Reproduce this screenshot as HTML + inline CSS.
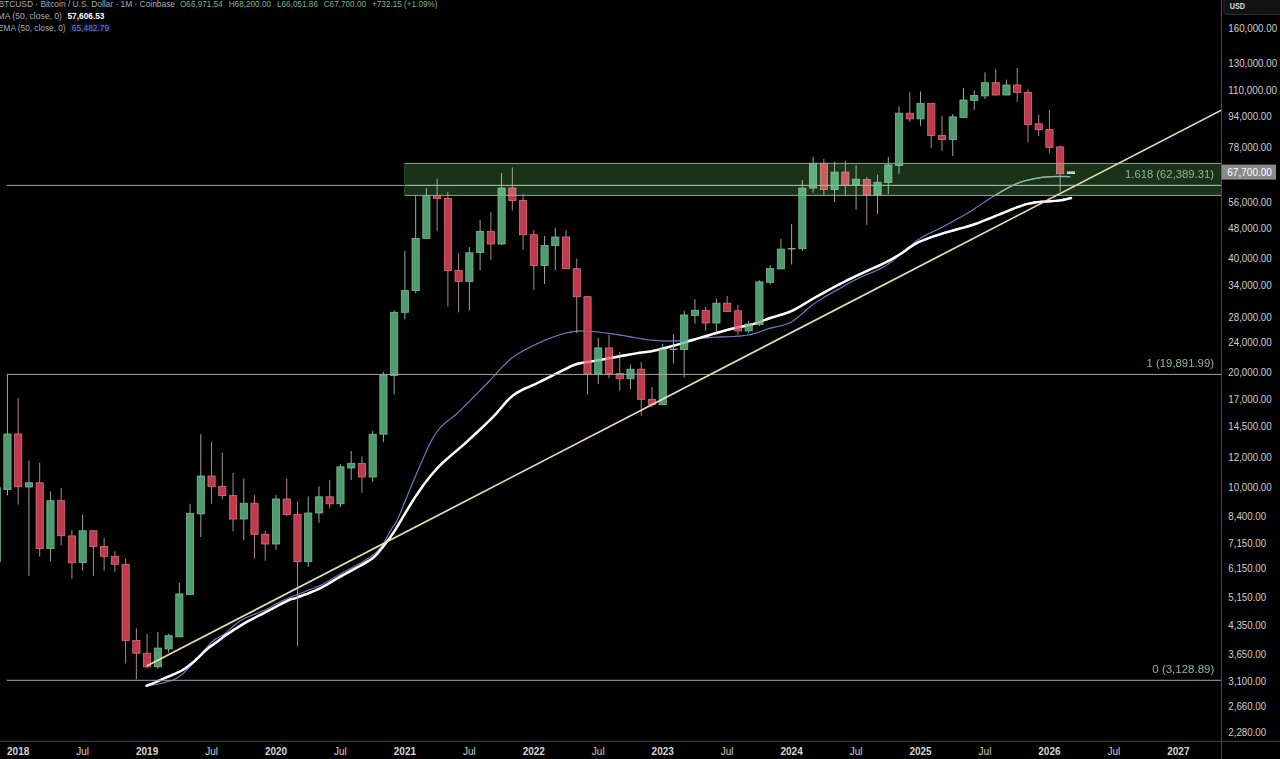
<!DOCTYPE html>
<html><head><meta charset="utf-8"><title>BTCUSD chart</title>
<style>html,body{margin:0;padding:0;background:#000;width:1280px;height:759px;overflow:hidden}</style>
</head><body>
<svg width="1280" height="759" viewBox="0 0 1280 759" style="display:block"><rect width="1280" height="759" fill="#000"/><defs><clipPath id="pane"><rect x="0" y="0" width="1221.0" height="740.75"/></clipPath></defs><g clip-path="url(#pane)"><polyline points="146.7,685.5 148.0,685.3 149.8,685.1 151.9,684.9 154.1,684.6 156.3,684.3 158.2,684.0 159.8,683.7 161.3,683.4 162.8,683.0 164.2,682.6 165.6,682.2 167.0,681.8 168.5,681.4 169.9,680.9 171.4,680.4 172.9,679.9 174.3,679.3 175.6,678.7 176.9,678.0 178.0,677.3 179.2,676.5 180.3,675.7 181.4,674.9 182.5,674.0 183.6,673.1 184.6,672.1 185.7,671.1 186.7,670.0 187.8,668.9 189.0,667.7 190.2,666.4 191.6,665.0 192.9,663.6 194.3,662.0 195.7,660.5 197.0,659.0 198.3,657.5 199.6,655.9 200.8,654.3 202.1,652.7 203.4,651.1 204.8,649.5 206.3,647.9 207.8,646.2 209.4,644.6 211.0,642.9 212.6,641.4 214.3,640.0 216.0,638.8 217.6,637.9 219.3,637.0 221.0,636.0 222.9,634.9 225.0,633.5 227.2,631.7 229.6,629.6 232.0,627.3 234.7,624.9 237.6,622.6 240.8,620.5 244.4,618.6 248.4,616.8 252.7,615.1 257.0,613.3 261.3,611.6 265.4,609.8 269.2,607.9 272.7,606.0 276.2,604.1 279.8,602.1 283.6,600.2 287.8,598.2 292.6,596.2 297.9,594.2 303.4,592.2 308.9,590.1 314.2,588.1 319.0,586.0 323.3,583.9 327.2,581.8 330.8,579.7 334.4,577.5 337.9,575.4 341.6,573.3 345.4,571.2 349.3,569.2 353.2,567.1 357.0,565.1 360.6,563.1 364.0,561.0 367.1,559.0 370.0,557.1 372.7,555.1 375.3,553.1 377.7,550.9 380.0,548.5 382.1,545.7 384.1,542.5 385.9,539.2 387.6,535.9 389.3,532.8 390.8,530.0 392.1,528.0 393.1,526.7 394.0,525.5 395.1,524.1 396.4,521.7 398.2,517.9 400.6,512.4 403.4,505.5 406.5,497.8 409.8,489.6 413.2,481.5 416.4,474.0 419.5,466.8 422.7,459.4 425.9,452.1 429.2,445.1 432.5,438.7 436.0,433.0 439.6,428.4 443.2,424.7 446.9,421.5 450.8,418.6 454.7,415.5 458.8,411.8 463.1,407.6 467.6,403.1 472.3,398.4 477.0,393.7 481.6,389.0 486.0,384.5 490.3,380.0 494.4,375.5 498.5,371.0 502.5,366.7 506.5,362.8 510.3,359.3 514.0,356.4 517.6,354.0 521.1,351.9 524.5,350.0 528.0,348.3 531.5,346.5 535.0,344.7 538.6,343.0 542.1,341.4 545.6,339.9 549.2,338.5 552.7,337.2 556.3,336.0 559.9,334.8 563.5,333.8 567.1,332.8 570.5,332.1 573.9,331.5 577.0,331.1 579.9,331.0 582.7,331.0 585.6,331.1 588.7,331.3 592.0,331.5 595.7,331.8 599.7,332.2 603.9,332.8 608.1,333.3 612.3,333.9 616.4,334.5 620.5,335.1 624.7,335.8 629.0,336.6 633.0,337.3 636.7,338.0 640.0,338.5 642.6,338.9 644.6,339.3 646.3,339.6 647.9,339.8 649.9,340.0 652.4,340.2 655.4,340.4 658.7,340.7 662.3,340.9 666.1,341.0 670.3,341.0 674.8,340.9 679.7,340.6 685.0,340.1 690.6,339.4 696.5,338.8 702.4,338.1 708.4,337.6 714.7,337.2 721.3,336.9 728.1,336.7 734.8,336.4 741.0,335.9 746.5,335.3 751.1,334.4 755.1,333.4 758.7,332.2 762.0,331.0 765.3,329.8 768.9,328.6 772.6,327.6 776.4,326.8 780.1,326.0 783.8,325.0 787.6,323.7 791.3,321.9 795.0,319.5 798.8,316.6 802.5,313.3 806.2,310.0 810.0,306.8 813.7,303.9 817.4,301.4 821.2,299.1 824.9,296.8 828.6,294.7 832.4,292.6 836.1,290.5 839.8,288.4 843.4,286.3 847.0,284.3 850.7,282.3 854.5,280.2 858.5,278.2 862.8,276.2 867.3,274.3 871.9,272.5 876.5,270.5 881.1,268.3 885.4,265.9 889.7,263.0 893.9,259.7 898.1,256.3 902.1,252.8 905.7,249.7 909.0,247.0 911.6,244.9 913.6,243.2 915.3,241.8 917.0,240.5 919.0,239.1 921.6,237.5 924.9,235.7 928.7,233.8 932.8,231.8 937.0,229.8 941.2,227.7 945.3,225.6 949.2,223.5 953.2,221.3 957.1,219.1 961.1,216.9 965.0,214.6 969.0,212.2 973.0,209.7 976.9,207.1 980.9,204.4 984.9,201.8 988.8,199.2 992.8,196.7 996.8,194.3 1000.8,191.9 1004.9,189.6 1008.8,187.4 1012.7,185.4 1016.5,183.7 1020.2,182.3 1023.7,181.2 1027.2,180.2 1030.6,179.5 1033.9,178.8 1037.0,178.2 1039.9,177.7 1042.6,177.3 1045.1,177.1 1047.6,176.9 1050.1,176.7 1052.8,176.6 1055.8,176.5 1059.1,176.5 1062.5,176.5 1065.6,176.5 1068.3,176.6 1070.2,176.6" fill="none" stroke="#6c78c0" stroke-width="1.1" stroke-linejoin="round"/><polyline points="146.5,685.8 147.4,685.4 148.7,685.0 150.2,684.4 151.8,683.8 153.5,683.1 155.0,682.5 156.4,681.9 157.9,681.2 159.4,680.5 160.9,679.8 162.3,679.1 163.7,678.5 165.0,677.9 166.4,677.4 167.6,676.9 168.9,676.4 170.2,675.9 171.5,675.3 172.8,674.7 174.2,674.1 175.6,673.5 177.0,672.8 178.3,672.2 179.5,671.6 180.6,671.0 181.7,670.5 182.6,670.0 183.6,669.4 184.5,668.8 185.5,668.2 186.5,667.5 187.5,666.8 188.5,666.1 189.4,665.3 190.4,664.5 191.4,663.7 192.4,662.9 193.4,662.0 194.4,661.2 195.3,660.3 196.3,659.4 197.3,658.5 198.3,657.6 199.2,656.6 200.2,655.6 201.2,654.6 202.2,653.6 203.2,652.6 204.2,651.6 205.3,650.7 206.4,649.8 207.5,648.8 208.7,647.8 210.0,646.8 211.5,645.7 213.2,644.5 215.0,643.2 216.8,642.0 218.4,640.8 219.8,639.8 220.8,639.0 221.3,638.5 221.8,638.1 222.4,637.5 223.4,636.8 225.1,635.6 227.6,633.9 230.7,631.9 234.3,629.6 238.0,627.2 241.8,624.9 245.3,622.8 248.6,620.9 251.9,619.2 255.2,617.5 258.5,615.8 261.9,614.1 265.4,612.3 269.2,610.3 273.2,608.2 277.3,606.0 281.2,603.9 284.8,602.1 287.8,600.6 289.9,599.7 291.3,599.2 292.3,598.9 293.3,598.7 294.7,598.3 296.8,597.6 299.8,596.5 303.3,595.2 307.2,593.8 311.2,592.2 315.3,590.5 319.2,588.7 322.9,586.8 326.7,584.7 330.4,582.5 334.1,580.3 337.9,578.0 341.6,575.9 345.5,573.8 349.5,571.6 353.5,569.4 357.4,567.3 360.9,565.4 364.0,563.6 366.5,562.1 368.6,560.9 370.3,559.8 371.9,558.7 373.5,557.4 375.2,555.8 377.1,553.9 379.0,551.7 380.9,549.3 382.8,546.9 384.7,544.5 386.4,542.3 387.9,540.4 389.1,538.9 390.2,537.5 391.4,535.7 393.0,533.3 395.2,530.0 398.0,525.4 401.3,519.8 405.0,513.5 408.9,507.1 412.7,500.8 416.4,495.2 419.9,490.2 423.2,485.4 426.6,480.9 430.1,476.5 433.7,472.2 437.6,467.9 441.8,463.7 446.2,459.6 450.8,455.6 455.5,451.7 460.2,447.7 464.8,443.6 469.4,439.4 474.1,435.0 478.8,430.7 483.4,426.3 487.9,422.0 492.1,417.9 496.0,413.8 499.5,409.7 502.9,405.7 506.2,401.9 509.7,398.3 513.3,395.2 517.2,392.6 521.2,390.4 525.3,388.4 529.4,386.7 533.5,384.9 537.6,383.0 541.7,380.9 546.0,378.8 550.3,376.6 554.4,374.5 558.3,372.6 561.8,370.9 564.8,369.4 567.3,368.1 569.6,366.9 571.8,365.9 574.2,364.9 577.0,364.0 580.2,363.2 583.5,362.6 587.0,362.0 590.7,361.5 594.4,360.9 598.2,360.3 602.1,359.6 606.3,358.8 610.5,358.0 614.7,357.2 618.7,356.5 622.4,355.8 625.8,355.2 628.9,354.6 631.9,354.1 634.8,353.6 637.4,353.1 640.0,352.7 642.3,352.4 644.1,352.2 645.9,352.0 647.7,351.8 649.8,351.5 652.4,351.0 655.6,350.3 659.1,349.5 663.0,348.5 667.0,347.5 671.0,346.4 674.8,345.4 678.4,344.4 681.9,343.4 685.3,342.3 688.9,341.2 692.8,340.0 697.2,338.7 702.3,337.2 708.0,335.5 714.0,333.7 720.0,332.0 725.7,330.4 730.8,329.0 735.3,327.9 739.3,327.0 743.1,326.3 746.6,325.6 750.0,324.9 753.2,324.1 756.1,323.2 758.7,322.4 761.0,321.5 763.4,320.5 766.0,319.5 768.9,318.5 772.2,317.4 775.9,316.4 779.7,315.2 783.6,314.0 787.5,312.7 791.3,311.1 795.0,309.3 798.8,307.2 802.5,305.0 806.2,302.7 810.0,300.5 813.7,298.3 817.4,296.2 821.2,294.1 824.9,292.1 828.6,290.0 832.4,288.0 836.1,286.0 839.8,284.1 843.4,282.2 847.0,280.4 850.7,278.6 854.5,276.7 858.5,274.8 862.9,272.8 867.6,270.6 872.4,268.5 877.2,266.3 881.6,264.3 885.4,262.5 888.5,260.9 891.0,259.6 893.2,258.3 895.3,257.1 897.5,255.8 900.0,254.2 902.8,252.4 905.6,250.4 908.5,248.3 911.6,246.2 914.9,244.1 918.5,242.2 922.5,240.5 926.8,238.8 931.3,237.2 935.9,235.7 940.6,234.2 945.3,232.7 950.0,231.3 954.7,230.0 959.5,228.7 964.4,227.4 969.1,226.0 973.8,224.5 978.5,222.8 983.1,221.0 987.7,219.1 992.3,217.3 996.6,215.5 1000.7,213.8 1004.6,212.3 1008.2,210.8 1011.7,209.3 1015.1,208.0 1018.2,206.8 1021.2,205.8 1024.0,204.9 1026.5,204.2 1028.8,203.7 1031.1,203.2 1033.3,202.8 1035.5,202.4 1037.7,202.1 1039.8,201.9 1041.9,201.8 1044.0,201.7 1046.0,201.5 1048.1,201.4 1050.2,201.2 1052.4,201.1 1054.6,200.9 1056.7,200.8 1058.8,200.6 1060.8,200.3 1062.8,200.0 1064.8,199.5 1066.7,199.1 1068.4,198.6 1069.9,198.3 1071.0,198.0" fill="none" stroke="#ffffff" stroke-width="2.4" stroke-linejoin="round" stroke-linecap="round"/><line x1="-3.28" y1="480.0" x2="-3.28" y2="565.0" stroke="#98a89c" stroke-width="1"/><rect x="-6.88" y="487.6" width="7.2" height="73.8" fill="#4e9b6f" stroke="#79b891" stroke-width="0.8"/><line x1="7.46" y1="374.0" x2="7.46" y2="495.4" stroke="#98a89c" stroke-width="1"/><rect x="3.86" y="434.0" width="7.2" height="55.6" fill="#4e9b6f" stroke="#79b891" stroke-width="0.8"/><line x1="18.20" y1="398.0" x2="18.20" y2="504.6" stroke="#a48a8e" stroke-width="1"/><rect x="14.60" y="434.0" width="7.2" height="52.7" fill="#c03a4e" stroke="#d9707c" stroke-width="0.8"/><line x1="28.94" y1="460.6" x2="28.94" y2="575.8" stroke="#98a89c" stroke-width="1"/><rect x="25.34" y="482.8" width="7.2" height="4.2" fill="#4e9b6f" stroke="#79b891" stroke-width="0.8"/><line x1="39.68" y1="462.5" x2="39.68" y2="556.5" stroke="#a48a8e" stroke-width="1"/><rect x="36.08" y="482.8" width="7.2" height="65.8" fill="#c03a4e" stroke="#d9707c" stroke-width="0.8"/><line x1="50.43" y1="491.4" x2="50.43" y2="561.3" stroke="#98a89c" stroke-width="1"/><rect x="46.83" y="500.7" width="7.2" height="47.9" fill="#4e9b6f" stroke="#79b891" stroke-width="0.8"/><line x1="61.17" y1="488.0" x2="61.17" y2="545.5" stroke="#a48a8e" stroke-width="1"/><rect x="57.57" y="500.7" width="7.2" height="35.0" fill="#c03a4e" stroke="#d9707c" stroke-width="0.8"/><line x1="71.91" y1="530.0" x2="71.91" y2="579.0" stroke="#a48a8e" stroke-width="1"/><rect x="68.31" y="535.9" width="7.2" height="26.9" fill="#c03a4e" stroke="#d9707c" stroke-width="0.8"/><line x1="82.65" y1="514.5" x2="82.65" y2="570.6" stroke="#98a89c" stroke-width="1"/><rect x="79.05" y="530.8" width="7.2" height="31.9" fill="#4e9b6f" stroke="#79b891" stroke-width="0.8"/><line x1="93.39" y1="530.0" x2="93.39" y2="575.9" stroke="#a48a8e" stroke-width="1"/><rect x="89.79" y="530.8" width="7.2" height="15.7" fill="#c03a4e" stroke="#d9707c" stroke-width="0.8"/><line x1="104.14" y1="537.7" x2="104.14" y2="570.6" stroke="#a48a8e" stroke-width="1"/><rect x="100.54" y="546.5" width="7.2" height="9.8" fill="#c03a4e" stroke="#d9707c" stroke-width="0.8"/><line x1="114.88" y1="551.4" x2="114.88" y2="571.7" stroke="#a48a8e" stroke-width="1"/><rect x="111.28" y="556.3" width="7.2" height="8.0" fill="#c03a4e" stroke="#d9707c" stroke-width="0.8"/><line x1="125.62" y1="558.5" x2="125.62" y2="663.4" stroke="#a48a8e" stroke-width="1"/><rect x="122.02" y="564.3" width="7.2" height="76.1" fill="#c03a4e" stroke="#d9707c" stroke-width="0.8"/><line x1="136.36" y1="628.3" x2="136.36" y2="679.2" stroke="#a48a8e" stroke-width="1"/><rect x="132.76" y="640.4" width="7.2" height="12.8" fill="#c03a4e" stroke="#d9707c" stroke-width="0.8"/><line x1="147.10" y1="633.9" x2="147.10" y2="668.6" stroke="#a48a8e" stroke-width="1"/><rect x="143.50" y="653.2" width="7.2" height="13.6" fill="#c03a4e" stroke="#d9707c" stroke-width="0.8"/><line x1="157.85" y1="631.8" x2="157.85" y2="668.6" stroke="#98a89c" stroke-width="1"/><rect x="154.25" y="648.1" width="7.2" height="18.7" fill="#4e9b6f" stroke="#79b891" stroke-width="0.8"/><line x1="168.59" y1="633.9" x2="168.59" y2="652.8" stroke="#98a89c" stroke-width="1"/><rect x="164.99" y="635.7" width="7.2" height="13.2" fill="#4e9b6f" stroke="#79b891" stroke-width="0.8"/><line x1="179.33" y1="582.8" x2="179.33" y2="637.0" stroke="#98a89c" stroke-width="1"/><rect x="175.73" y="593.9" width="7.2" height="43.0" fill="#4e9b6f" stroke="#79b891" stroke-width="0.8"/><line x1="190.07" y1="503.8" x2="190.07" y2="594.5" stroke="#98a89c" stroke-width="1"/><rect x="186.47" y="513.3" width="7.2" height="81.2" fill="#4e9b6f" stroke="#79b891" stroke-width="0.8"/><line x1="200.81" y1="434.2" x2="200.81" y2="537.0" stroke="#98a89c" stroke-width="1"/><rect x="197.21" y="476.0" width="7.2" height="37.9" fill="#4e9b6f" stroke="#79b891" stroke-width="0.8"/><line x1="211.56" y1="442.0" x2="211.56" y2="503.8" stroke="#a48a8e" stroke-width="1"/><rect x="207.96" y="476.0" width="7.2" height="10.7" fill="#c03a4e" stroke="#d9707c" stroke-width="0.8"/><line x1="222.30" y1="452.6" x2="222.30" y2="499.0" stroke="#a48a8e" stroke-width="1"/><rect x="218.70" y="486.5" width="7.2" height="9.1" fill="#c03a4e" stroke="#d9707c" stroke-width="0.8"/><line x1="233.04" y1="472.8" x2="233.04" y2="531.3" stroke="#a48a8e" stroke-width="1"/><rect x="229.44" y="495.6" width="7.2" height="23.4" fill="#c03a4e" stroke="#d9707c" stroke-width="0.8"/><line x1="243.78" y1="478.5" x2="243.78" y2="540.2" stroke="#98a89c" stroke-width="1"/><rect x="240.18" y="503.2" width="7.2" height="15.8" fill="#4e9b6f" stroke="#79b891" stroke-width="0.8"/><line x1="254.52" y1="495.0" x2="254.52" y2="558.5" stroke="#a48a8e" stroke-width="1"/><rect x="250.92" y="503.2" width="7.2" height="31.1" fill="#c03a4e" stroke="#d9707c" stroke-width="0.8"/><line x1="265.27" y1="530.7" x2="265.27" y2="560.7" stroke="#a48a8e" stroke-width="1"/><rect x="261.67" y="534.3" width="7.2" height="9.7" fill="#c03a4e" stroke="#d9707c" stroke-width="0.8"/><line x1="276.01" y1="495.0" x2="276.01" y2="549.6" stroke="#98a89c" stroke-width="1"/><rect x="272.41" y="499.0" width="7.2" height="45.0" fill="#4e9b6f" stroke="#79b891" stroke-width="0.8"/><line x1="286.75" y1="478.5" x2="286.75" y2="516.0" stroke="#a48a8e" stroke-width="1"/><rect x="283.15" y="499.0" width="7.2" height="15.6" fill="#c03a4e" stroke="#d9707c" stroke-width="0.8"/><line x1="297.49" y1="501.6" x2="297.49" y2="646.1" stroke="#a48a8e" stroke-width="1"/><rect x="293.89" y="514.6" width="7.2" height="47.1" fill="#c03a4e" stroke="#d9707c" stroke-width="0.8"/><line x1="308.23" y1="496.5" x2="308.23" y2="567.0" stroke="#98a89c" stroke-width="1"/><rect x="304.63" y="513.0" width="7.2" height="48.7" fill="#4e9b6f" stroke="#79b891" stroke-width="0.8"/><line x1="318.98" y1="486.4" x2="318.98" y2="522.8" stroke="#98a89c" stroke-width="1"/><rect x="315.38" y="496.8" width="7.2" height="16.2" fill="#4e9b6f" stroke="#79b891" stroke-width="0.8"/><line x1="329.72" y1="480.0" x2="329.72" y2="508.5" stroke="#a48a8e" stroke-width="1"/><rect x="326.12" y="496.8" width="7.2" height="7.0" fill="#c03a4e" stroke="#d9707c" stroke-width="0.8"/><line x1="340.46" y1="464.3" x2="340.46" y2="507.0" stroke="#98a89c" stroke-width="1"/><rect x="336.86" y="466.8" width="7.2" height="37.0" fill="#4e9b6f" stroke="#79b891" stroke-width="0.8"/><line x1="351.20" y1="451.0" x2="351.20" y2="480.0" stroke="#98a89c" stroke-width="1"/><rect x="347.60" y="463.3" width="7.2" height="4.7" fill="#4e9b6f" stroke="#79b891" stroke-width="0.8"/><line x1="361.94" y1="456.4" x2="361.94" y2="492.7" stroke="#a48a8e" stroke-width="1"/><rect x="358.34" y="463.3" width="7.2" height="13.7" fill="#c03a4e" stroke="#d9707c" stroke-width="0.8"/><line x1="372.69" y1="431.0" x2="372.69" y2="481.7" stroke="#98a89c" stroke-width="1"/><rect x="369.09" y="434.2" width="7.2" height="42.8" fill="#4e9b6f" stroke="#79b891" stroke-width="0.8"/><line x1="383.43" y1="372.0" x2="383.43" y2="442.0" stroke="#98a89c" stroke-width="1"/><rect x="379.83" y="374.7" width="7.2" height="59.5" fill="#4e9b6f" stroke="#79b891" stroke-width="0.8"/><line x1="394.17" y1="310.3" x2="394.17" y2="394.5" stroke="#98a89c" stroke-width="1"/><rect x="390.57" y="312.3" width="7.2" height="63.2" fill="#4e9b6f" stroke="#79b891" stroke-width="0.8"/><line x1="404.91" y1="251.0" x2="404.91" y2="319.4" stroke="#98a89c" stroke-width="1"/><rect x="401.31" y="290.6" width="7.2" height="21.7" fill="#4e9b6f" stroke="#79b891" stroke-width="0.8"/><line x1="415.65" y1="195.5" x2="415.65" y2="293.3" stroke="#98a89c" stroke-width="1"/><rect x="412.05" y="238.4" width="7.2" height="52.2" fill="#4e9b6f" stroke="#79b891" stroke-width="0.8"/><line x1="426.40" y1="187.8" x2="426.40" y2="238.4" stroke="#98a89c" stroke-width="1"/><rect x="422.80" y="195.7" width="7.2" height="42.7" fill="#4e9b6f" stroke="#79b891" stroke-width="0.8"/><line x1="437.14" y1="178.7" x2="437.14" y2="231.3" stroke="#a48a8e" stroke-width="1"/><rect x="433.54" y="195.7" width="7.2" height="2.8" fill="#c03a4e" stroke="#d9707c" stroke-width="0.8"/><line x1="447.88" y1="191.7" x2="447.88" y2="306.4" stroke="#a48a8e" stroke-width="1"/><rect x="444.28" y="198.5" width="7.2" height="72.0" fill="#c03a4e" stroke="#d9707c" stroke-width="0.8"/><line x1="458.62" y1="253.0" x2="458.62" y2="312.3" stroke="#a48a8e" stroke-width="1"/><rect x="455.02" y="270.5" width="7.2" height="11.0" fill="#c03a4e" stroke="#d9707c" stroke-width="0.8"/><line x1="469.36" y1="247.0" x2="469.36" y2="310.3" stroke="#98a89c" stroke-width="1"/><rect x="465.76" y="252.8" width="7.2" height="28.7" fill="#4e9b6f" stroke="#79b891" stroke-width="0.8"/><line x1="480.11" y1="220.0" x2="480.11" y2="270.3" stroke="#98a89c" stroke-width="1"/><rect x="476.51" y="231.3" width="7.2" height="21.2" fill="#4e9b6f" stroke="#79b891" stroke-width="0.8"/><line x1="490.85" y1="212.0" x2="490.85" y2="260.0" stroke="#a48a8e" stroke-width="1"/><rect x="487.25" y="231.3" width="7.2" height="12.7" fill="#c03a4e" stroke="#d9707c" stroke-width="0.8"/><line x1="501.59" y1="173.0" x2="501.59" y2="245.0" stroke="#98a89c" stroke-width="1"/><rect x="497.99" y="188.0" width="7.2" height="56.0" fill="#4e9b6f" stroke="#79b891" stroke-width="0.8"/><line x1="512.33" y1="167.5" x2="512.33" y2="210.7" stroke="#a48a8e" stroke-width="1"/><rect x="508.73" y="188.0" width="7.2" height="12.4" fill="#c03a4e" stroke="#d9707c" stroke-width="0.8"/><line x1="523.07" y1="194.3" x2="523.07" y2="249.8" stroke="#a48a8e" stroke-width="1"/><rect x="519.47" y="200.4" width="7.2" height="34.3" fill="#c03a4e" stroke="#d9707c" stroke-width="0.8"/><line x1="533.82" y1="230.0" x2="533.82" y2="290.2" stroke="#a48a8e" stroke-width="1"/><rect x="530.22" y="234.7" width="7.2" height="30.8" fill="#c03a4e" stroke="#d9707c" stroke-width="0.8"/><line x1="544.56" y1="236.0" x2="544.56" y2="284.0" stroke="#98a89c" stroke-width="1"/><rect x="540.96" y="245.6" width="7.2" height="19.9" fill="#4e9b6f" stroke="#79b891" stroke-width="0.8"/><line x1="555.30" y1="227.8" x2="555.30" y2="270.3" stroke="#98a89c" stroke-width="1"/><rect x="551.70" y="237.0" width="7.2" height="8.6" fill="#4e9b6f" stroke="#79b891" stroke-width="0.8"/><line x1="566.04" y1="230.0" x2="566.04" y2="269.0" stroke="#a48a8e" stroke-width="1"/><rect x="562.44" y="237.0" width="7.2" height="31.7" fill="#c03a4e" stroke="#d9707c" stroke-width="0.8"/><line x1="576.78" y1="258.5" x2="576.78" y2="333.2" stroke="#a48a8e" stroke-width="1"/><rect x="573.18" y="268.7" width="7.2" height="28.0" fill="#c03a4e" stroke="#d9707c" stroke-width="0.8"/><line x1="587.53" y1="296.0" x2="587.53" y2="394.5" stroke="#a48a8e" stroke-width="1"/><rect x="583.93" y="296.7" width="7.2" height="77.2" fill="#c03a4e" stroke="#d9707c" stroke-width="0.8"/><line x1="598.27" y1="337.8" x2="598.27" y2="384.0" stroke="#98a89c" stroke-width="1"/><rect x="594.67" y="347.9" width="7.2" height="26.0" fill="#4e9b6f" stroke="#79b891" stroke-width="0.8"/><line x1="609.01" y1="334.7" x2="609.01" y2="378.1" stroke="#a48a8e" stroke-width="1"/><rect x="605.41" y="347.9" width="7.2" height="25.6" fill="#c03a4e" stroke="#d9707c" stroke-width="0.8"/><line x1="619.75" y1="352.0" x2="619.75" y2="390.7" stroke="#a48a8e" stroke-width="1"/><rect x="616.15" y="373.5" width="7.2" height="5.3" fill="#c03a4e" stroke="#d9707c" stroke-width="0.8"/><line x1="630.49" y1="364.7" x2="630.49" y2="389.3" stroke="#98a89c" stroke-width="1"/><rect x="626.89" y="369.2" width="7.2" height="9.6" fill="#4e9b6f" stroke="#79b891" stroke-width="0.8"/><line x1="641.24" y1="362.0" x2="641.24" y2="415.8" stroke="#a48a8e" stroke-width="1"/><rect x="637.64" y="369.2" width="7.2" height="30.1" fill="#c03a4e" stroke="#d9707c" stroke-width="0.8"/><line x1="651.98" y1="387.0" x2="651.98" y2="406.8" stroke="#a48a8e" stroke-width="1"/><rect x="648.38" y="399.3" width="7.2" height="5.3" fill="#c03a4e" stroke="#d9707c" stroke-width="0.8"/><line x1="662.72" y1="344.0" x2="662.72" y2="405.0" stroke="#98a89c" stroke-width="1"/><rect x="659.12" y="349.0" width="7.2" height="55.6" fill="#4e9b6f" stroke="#79b891" stroke-width="0.8"/><line x1="673.46" y1="334.3" x2="673.46" y2="363.3" stroke="#98a89c" stroke-width="1"/><line x1="669.56" y1="349.2" x2="677.36" y2="349.2" stroke="#b8bcb8" stroke-width="1.2"/><line x1="684.20" y1="310.8" x2="684.20" y2="377.5" stroke="#98a89c" stroke-width="1"/><rect x="680.60" y="315.0" width="7.2" height="34.5" fill="#4e9b6f" stroke="#79b891" stroke-width="0.8"/><line x1="694.95" y1="299.2" x2="694.95" y2="323.7" stroke="#98a89c" stroke-width="1"/><rect x="691.35" y="310.3" width="7.2" height="5.2" fill="#4e9b6f" stroke="#79b891" stroke-width="0.8"/><line x1="705.69" y1="307.1" x2="705.69" y2="330.9" stroke="#a48a8e" stroke-width="1"/><rect x="702.09" y="310.3" width="7.2" height="12.7" fill="#c03a4e" stroke="#d9707c" stroke-width="0.8"/><line x1="716.43" y1="298.4" x2="716.43" y2="334.8" stroke="#98a89c" stroke-width="1"/><rect x="712.83" y="303.2" width="7.2" height="19.8" fill="#4e9b6f" stroke="#79b891" stroke-width="0.8"/><line x1="727.17" y1="296.0" x2="727.17" y2="311.9" stroke="#a48a8e" stroke-width="1"/><rect x="723.57" y="303.2" width="7.2" height="8.2" fill="#c03a4e" stroke="#d9707c" stroke-width="0.8"/><line x1="737.91" y1="305.0" x2="737.91" y2="334.8" stroke="#a48a8e" stroke-width="1"/><rect x="734.31" y="310.8" width="7.2" height="20.1" fill="#c03a4e" stroke="#d9707c" stroke-width="0.8"/><line x1="748.66" y1="320.9" x2="748.66" y2="333.2" stroke="#98a89c" stroke-width="1"/><rect x="745.06" y="324.0" width="7.2" height="6.9" fill="#4e9b6f" stroke="#79b891" stroke-width="0.8"/><line x1="759.40" y1="280.3" x2="759.40" y2="326.1" stroke="#98a89c" stroke-width="1"/><rect x="755.80" y="281.9" width="7.2" height="42.6" fill="#4e9b6f" stroke="#79b891" stroke-width="0.8"/><line x1="770.14" y1="265.0" x2="770.14" y2="284.7" stroke="#98a89c" stroke-width="1"/><rect x="766.54" y="268.5" width="7.2" height="13.8" fill="#4e9b6f" stroke="#79b891" stroke-width="0.8"/><line x1="780.88" y1="238.9" x2="780.88" y2="269.0" stroke="#98a89c" stroke-width="1"/><rect x="777.28" y="249.1" width="7.2" height="19.8" fill="#4e9b6f" stroke="#79b891" stroke-width="0.8"/><line x1="791.62" y1="224.0" x2="791.62" y2="264.5" stroke="#98a89c" stroke-width="1"/><line x1="787.72" y1="248.8" x2="795.52" y2="248.8" stroke="#b8bcb8" stroke-width="1.2"/><line x1="802.37" y1="180.0" x2="802.37" y2="251.0" stroke="#98a89c" stroke-width="1"/><rect x="798.77" y="188.1" width="7.2" height="60.6" fill="#4e9b6f" stroke="#79b891" stroke-width="0.8"/><line x1="813.11" y1="156.9" x2="813.11" y2="192.5" stroke="#98a89c" stroke-width="1"/><rect x="809.51" y="163.2" width="7.2" height="24.9" fill="#4e9b6f" stroke="#79b891" stroke-width="0.8"/><line x1="823.85" y1="158.9" x2="823.85" y2="195.0" stroke="#a48a8e" stroke-width="1"/><rect x="820.25" y="163.2" width="7.2" height="26.3" fill="#c03a4e" stroke="#d9707c" stroke-width="0.8"/><line x1="834.59" y1="161.8" x2="834.59" y2="202.3" stroke="#98a89c" stroke-width="1"/><rect x="830.99" y="172.1" width="7.2" height="17.4" fill="#4e9b6f" stroke="#79b891" stroke-width="0.8"/><line x1="845.33" y1="160.9" x2="845.33" y2="195.4" stroke="#a48a8e" stroke-width="1"/><rect x="841.73" y="172.1" width="7.2" height="13.1" fill="#c03a4e" stroke="#d9707c" stroke-width="0.8"/><line x1="856.08" y1="165.4" x2="856.08" y2="209.6" stroke="#98a89c" stroke-width="1"/><rect x="852.48" y="179.2" width="7.2" height="6.0" fill="#4e9b6f" stroke="#79b891" stroke-width="0.8"/><line x1="866.82" y1="177.2" x2="866.82" y2="225.1" stroke="#a48a8e" stroke-width="1"/><rect x="863.22" y="179.5" width="7.2" height="15.5" fill="#c03a4e" stroke="#d9707c" stroke-width="0.8"/><line x1="877.56" y1="174.8" x2="877.56" y2="213.9" stroke="#98a89c" stroke-width="1"/><rect x="873.96" y="182.3" width="7.2" height="12.6" fill="#4e9b6f" stroke="#79b891" stroke-width="0.8"/><line x1="888.30" y1="157.0" x2="888.30" y2="194.1" stroke="#98a89c" stroke-width="1"/><rect x="884.70" y="165.0" width="7.2" height="17.5" fill="#4e9b6f" stroke="#79b891" stroke-width="0.8"/><line x1="899.04" y1="106.3" x2="899.04" y2="173.8" stroke="#98a89c" stroke-width="1"/><rect x="895.44" y="113.2" width="7.2" height="52.3" fill="#4e9b6f" stroke="#79b891" stroke-width="0.8"/><line x1="909.79" y1="92.2" x2="909.79" y2="121.9" stroke="#a48a8e" stroke-width="1"/><rect x="906.19" y="113.2" width="7.2" height="5.7" fill="#c03a4e" stroke="#d9707c" stroke-width="0.8"/><line x1="920.53" y1="91.5" x2="920.53" y2="125.8" stroke="#98a89c" stroke-width="1"/><rect x="916.93" y="103.3" width="7.2" height="15.6" fill="#4e9b6f" stroke="#79b891" stroke-width="0.8"/><line x1="931.27" y1="103.0" x2="931.27" y2="148.1" stroke="#a48a8e" stroke-width="1"/><rect x="927.67" y="103.3" width="7.2" height="32.2" fill="#c03a4e" stroke="#d9707c" stroke-width="0.8"/><line x1="942.01" y1="115.5" x2="942.01" y2="151.1" stroke="#a48a8e" stroke-width="1"/><rect x="938.41" y="135.5" width="7.2" height="4.1" fill="#c03a4e" stroke="#d9707c" stroke-width="0.8"/><line x1="952.75" y1="114.0" x2="952.75" y2="156.0" stroke="#98a89c" stroke-width="1"/><rect x="949.15" y="116.9" width="7.2" height="22.7" fill="#4e9b6f" stroke="#79b891" stroke-width="0.8"/><line x1="963.50" y1="88.0" x2="963.50" y2="117.5" stroke="#98a89c" stroke-width="1"/><rect x="959.90" y="100.0" width="7.2" height="17.5" fill="#4e9b6f" stroke="#79b891" stroke-width="0.8"/><line x1="974.24" y1="90.2" x2="974.24" y2="110.0" stroke="#98a89c" stroke-width="1"/><rect x="970.64" y="95.5" width="7.2" height="5.0" fill="#4e9b6f" stroke="#79b891" stroke-width="0.8"/><line x1="984.98" y1="72.4" x2="984.98" y2="98.9" stroke="#98a89c" stroke-width="1"/><rect x="981.38" y="82.7" width="7.2" height="13.2" fill="#4e9b6f" stroke="#79b891" stroke-width="0.8"/><line x1="995.72" y1="69.2" x2="995.72" y2="95.5" stroke="#a48a8e" stroke-width="1"/><rect x="992.12" y="82.7" width="7.2" height="12.3" fill="#c03a4e" stroke="#d9707c" stroke-width="0.8"/><line x1="1006.46" y1="79.7" x2="1006.46" y2="95.5" stroke="#98a89c" stroke-width="1"/><rect x="1002.86" y="85.0" width="7.2" height="10.0" fill="#4e9b6f" stroke="#79b891" stroke-width="0.8"/><line x1="1017.21" y1="67.9" x2="1017.21" y2="102.0" stroke="#a48a8e" stroke-width="1"/><rect x="1013.61" y="85.0" width="7.2" height="7.3" fill="#c03a4e" stroke="#d9707c" stroke-width="0.8"/><line x1="1027.95" y1="89.0" x2="1027.95" y2="142.4" stroke="#a48a8e" stroke-width="1"/><rect x="1024.35" y="92.3" width="7.2" height="32.1" fill="#c03a4e" stroke="#d9707c" stroke-width="0.8"/><line x1="1038.69" y1="114.7" x2="1038.69" y2="136.0" stroke="#a48a8e" stroke-width="1"/><rect x="1035.09" y="123.8" width="7.2" height="5.9" fill="#c03a4e" stroke="#d9707c" stroke-width="0.8"/><line x1="1049.43" y1="110.0" x2="1049.43" y2="152.9" stroke="#a48a8e" stroke-width="1"/><rect x="1045.83" y="129.4" width="7.2" height="17.9" fill="#c03a4e" stroke="#d9707c" stroke-width="0.8"/><line x1="1060.17" y1="145.5" x2="1060.17" y2="191.6" stroke="#a48a8e" stroke-width="1"/><rect x="1056.57" y="146.9" width="7.2" height="26.8" fill="#c03a4e" stroke="#d9707c" stroke-width="0.8"/><rect x="1066.92" y="171.4" width="8" height="2.6" fill="#a8d8b4"/><g opacity="0.4"><polyline points="146.7,685.5 148.0,685.3 149.8,685.1 151.9,684.9 154.1,684.6 156.3,684.3 158.2,684.0 159.8,683.7 161.3,683.4 162.8,683.0 164.2,682.6 165.6,682.2 167.0,681.8 168.5,681.4 169.9,680.9 171.4,680.4 172.9,679.9 174.3,679.3 175.6,678.7 176.9,678.0 178.0,677.3 179.2,676.5 180.3,675.7 181.4,674.9 182.5,674.0 183.6,673.1 184.6,672.1 185.7,671.1 186.7,670.0 187.8,668.9 189.0,667.7 190.2,666.4 191.6,665.0 192.9,663.6 194.3,662.0 195.7,660.5 197.0,659.0 198.3,657.5 199.6,655.9 200.8,654.3 202.1,652.7 203.4,651.1 204.8,649.5 206.3,647.9 207.8,646.2 209.4,644.6 211.0,642.9 212.6,641.4 214.3,640.0 216.0,638.8 217.6,637.9 219.3,637.0 221.0,636.0 222.9,634.9 225.0,633.5 227.2,631.7 229.6,629.6 232.0,627.3 234.7,624.9 237.6,622.6 240.8,620.5 244.4,618.6 248.4,616.8 252.7,615.1 257.0,613.3 261.3,611.6 265.4,609.8 269.2,607.9 272.7,606.0 276.2,604.1 279.8,602.1 283.6,600.2 287.8,598.2 292.6,596.2 297.9,594.2 303.4,592.2 308.9,590.1 314.2,588.1 319.0,586.0 323.3,583.9 327.2,581.8 330.8,579.7 334.4,577.5 337.9,575.4 341.6,573.3 345.4,571.2 349.3,569.2 353.2,567.1 357.0,565.1 360.6,563.1 364.0,561.0 367.1,559.0 370.0,557.1 372.7,555.1 375.3,553.1 377.7,550.9 380.0,548.5 382.1,545.7 384.1,542.5 385.9,539.2 387.6,535.9 389.3,532.8 390.8,530.0 392.1,528.0 393.1,526.7 394.0,525.5 395.1,524.1 396.4,521.7 398.2,517.9 400.6,512.4 403.4,505.5 406.5,497.8 409.8,489.6 413.2,481.5 416.4,474.0 419.5,466.8 422.7,459.4 425.9,452.1 429.2,445.1 432.5,438.7 436.0,433.0 439.6,428.4 443.2,424.7 446.9,421.5 450.8,418.6 454.7,415.5 458.8,411.8 463.1,407.6 467.6,403.1 472.3,398.4 477.0,393.7 481.6,389.0 486.0,384.5 490.3,380.0 494.4,375.5 498.5,371.0 502.5,366.7 506.5,362.8 510.3,359.3 514.0,356.4 517.6,354.0 521.1,351.9 524.5,350.0 528.0,348.3 531.5,346.5 535.0,344.7 538.6,343.0 542.1,341.4 545.6,339.9 549.2,338.5 552.7,337.2 556.3,336.0 559.9,334.8 563.5,333.8 567.1,332.8 570.5,332.1 573.9,331.5 577.0,331.1 579.9,331.0 582.7,331.0 585.6,331.1 588.7,331.3 592.0,331.5 595.7,331.8 599.7,332.2 603.9,332.8 608.1,333.3 612.3,333.9 616.4,334.5 620.5,335.1 624.7,335.8 629.0,336.6 633.0,337.3 636.7,338.0 640.0,338.5 642.6,338.9 644.6,339.3 646.3,339.6 647.9,339.8 649.9,340.0 652.4,340.2 655.4,340.4 658.7,340.7 662.3,340.9 666.1,341.0 670.3,341.0 674.8,340.9 679.7,340.6 685.0,340.1 690.6,339.4 696.5,338.8 702.4,338.1 708.4,337.6 714.7,337.2 721.3,336.9 728.1,336.7 734.8,336.4 741.0,335.9 746.5,335.3 751.1,334.4 755.1,333.4 758.7,332.2 762.0,331.0 765.3,329.8 768.9,328.6 772.6,327.6 776.4,326.8 780.1,326.0 783.8,325.0 787.6,323.7 791.3,321.9 795.0,319.5 798.8,316.6 802.5,313.3 806.2,310.0 810.0,306.8 813.7,303.9 817.4,301.4 821.2,299.1 824.9,296.8 828.6,294.7 832.4,292.6 836.1,290.5 839.8,288.4 843.4,286.3 847.0,284.3 850.7,282.3 854.5,280.2 858.5,278.2 862.8,276.2 867.3,274.3 871.9,272.5 876.5,270.5 881.1,268.3 885.4,265.9 889.7,263.0 893.9,259.7 898.1,256.3 902.1,252.8 905.7,249.7 909.0,247.0 911.6,244.9 913.6,243.2 915.3,241.8 917.0,240.5 919.0,239.1 921.6,237.5 924.9,235.7 928.7,233.8 932.8,231.8 937.0,229.8 941.2,227.7 945.3,225.6 949.2,223.5 953.2,221.3 957.1,219.1 961.1,216.9 965.0,214.6 969.0,212.2 973.0,209.7 976.9,207.1 980.9,204.4 984.9,201.8 988.8,199.2 992.8,196.7 996.8,194.3 1000.8,191.9 1004.9,189.6 1008.8,187.4 1012.7,185.4 1016.5,183.7 1020.2,182.3 1023.7,181.2 1027.2,180.2 1030.6,179.5 1033.9,178.8 1037.0,178.2 1039.9,177.7 1042.6,177.3 1045.1,177.1 1047.6,176.9 1050.1,176.7 1052.8,176.6 1055.8,176.5 1059.1,176.5 1062.5,176.5 1065.6,176.5 1068.3,176.6 1070.2,176.6" fill="none" stroke="#6c78c0" stroke-width="1.1" stroke-linejoin="round"/><polyline points="146.5,685.8 147.4,685.4 148.7,685.0 150.2,684.4 151.8,683.8 153.5,683.1 155.0,682.5 156.4,681.9 157.9,681.2 159.4,680.5 160.9,679.8 162.3,679.1 163.7,678.5 165.0,677.9 166.4,677.4 167.6,676.9 168.9,676.4 170.2,675.9 171.5,675.3 172.8,674.7 174.2,674.1 175.6,673.5 177.0,672.8 178.3,672.2 179.5,671.6 180.6,671.0 181.7,670.5 182.6,670.0 183.6,669.4 184.5,668.8 185.5,668.2 186.5,667.5 187.5,666.8 188.5,666.1 189.4,665.3 190.4,664.5 191.4,663.7 192.4,662.9 193.4,662.0 194.4,661.2 195.3,660.3 196.3,659.4 197.3,658.5 198.3,657.6 199.2,656.6 200.2,655.6 201.2,654.6 202.2,653.6 203.2,652.6 204.2,651.6 205.3,650.7 206.4,649.8 207.5,648.8 208.7,647.8 210.0,646.8 211.5,645.7 213.2,644.5 215.0,643.2 216.8,642.0 218.4,640.8 219.8,639.8 220.8,639.0 221.3,638.5 221.8,638.1 222.4,637.5 223.4,636.8 225.1,635.6 227.6,633.9 230.7,631.9 234.3,629.6 238.0,627.2 241.8,624.9 245.3,622.8 248.6,620.9 251.9,619.2 255.2,617.5 258.5,615.8 261.9,614.1 265.4,612.3 269.2,610.3 273.2,608.2 277.3,606.0 281.2,603.9 284.8,602.1 287.8,600.6 289.9,599.7 291.3,599.2 292.3,598.9 293.3,598.7 294.7,598.3 296.8,597.6 299.8,596.5 303.3,595.2 307.2,593.8 311.2,592.2 315.3,590.5 319.2,588.7 322.9,586.8 326.7,584.7 330.4,582.5 334.1,580.3 337.9,578.0 341.6,575.9 345.5,573.8 349.5,571.6 353.5,569.4 357.4,567.3 360.9,565.4 364.0,563.6 366.5,562.1 368.6,560.9 370.3,559.8 371.9,558.7 373.5,557.4 375.2,555.8 377.1,553.9 379.0,551.7 380.9,549.3 382.8,546.9 384.7,544.5 386.4,542.3 387.9,540.4 389.1,538.9 390.2,537.5 391.4,535.7 393.0,533.3 395.2,530.0 398.0,525.4 401.3,519.8 405.0,513.5 408.9,507.1 412.7,500.8 416.4,495.2 419.9,490.2 423.2,485.4 426.6,480.9 430.1,476.5 433.7,472.2 437.6,467.9 441.8,463.7 446.2,459.6 450.8,455.6 455.5,451.7 460.2,447.7 464.8,443.6 469.4,439.4 474.1,435.0 478.8,430.7 483.4,426.3 487.9,422.0 492.1,417.9 496.0,413.8 499.5,409.7 502.9,405.7 506.2,401.9 509.7,398.3 513.3,395.2 517.2,392.6 521.2,390.4 525.3,388.4 529.4,386.7 533.5,384.9 537.6,383.0 541.7,380.9 546.0,378.8 550.3,376.6 554.4,374.5 558.3,372.6 561.8,370.9 564.8,369.4 567.3,368.1 569.6,366.9 571.8,365.9 574.2,364.9 577.0,364.0 580.2,363.2 583.5,362.6 587.0,362.0 590.7,361.5 594.4,360.9 598.2,360.3 602.1,359.6 606.3,358.8 610.5,358.0 614.7,357.2 618.7,356.5 622.4,355.8 625.8,355.2 628.9,354.6 631.9,354.1 634.8,353.6 637.4,353.1 640.0,352.7 642.3,352.4 644.1,352.2 645.9,352.0 647.7,351.8 649.8,351.5 652.4,351.0 655.6,350.3 659.1,349.5 663.0,348.5 667.0,347.5 671.0,346.4 674.8,345.4 678.4,344.4 681.9,343.4 685.3,342.3 688.9,341.2 692.8,340.0 697.2,338.7 702.3,337.2 708.0,335.5 714.0,333.7 720.0,332.0 725.7,330.4 730.8,329.0 735.3,327.9 739.3,327.0 743.1,326.3 746.6,325.6 750.0,324.9 753.2,324.1 756.1,323.2 758.7,322.4 761.0,321.5 763.4,320.5 766.0,319.5 768.9,318.5 772.2,317.4 775.9,316.4 779.7,315.2 783.6,314.0 787.5,312.7 791.3,311.1 795.0,309.3 798.8,307.2 802.5,305.0 806.2,302.7 810.0,300.5 813.7,298.3 817.4,296.2 821.2,294.1 824.9,292.1 828.6,290.0 832.4,288.0 836.1,286.0 839.8,284.1 843.4,282.2 847.0,280.4 850.7,278.6 854.5,276.7 858.5,274.8 862.9,272.8 867.6,270.6 872.4,268.5 877.2,266.3 881.6,264.3 885.4,262.5 888.5,260.9 891.0,259.6 893.2,258.3 895.3,257.1 897.5,255.8 900.0,254.2 902.8,252.4 905.6,250.4 908.5,248.3 911.6,246.2 914.9,244.1 918.5,242.2 922.5,240.5 926.8,238.8 931.3,237.2 935.9,235.7 940.6,234.2 945.3,232.7 950.0,231.3 954.7,230.0 959.5,228.7 964.4,227.4 969.1,226.0 973.8,224.5 978.5,222.8 983.1,221.0 987.7,219.1 992.3,217.3 996.6,215.5 1000.7,213.8 1004.6,212.3 1008.2,210.8 1011.7,209.3 1015.1,208.0 1018.2,206.8 1021.2,205.8 1024.0,204.9 1026.5,204.2 1028.8,203.7 1031.1,203.2 1033.3,202.8 1035.5,202.4 1037.7,202.1 1039.8,201.9 1041.9,201.8 1044.0,201.7 1046.0,201.5 1048.1,201.4 1050.2,201.2 1052.4,201.1 1054.6,200.9 1056.7,200.8 1058.8,200.6 1060.8,200.3 1062.8,200.0 1064.8,199.5 1066.7,199.1 1068.4,198.6 1069.9,198.3 1071.0,198.0" fill="none" stroke="#ffffff" stroke-width="2.4" stroke-linejoin="round" stroke-linecap="round"/></g><line x1="6.75" y1="185.4" x2="1221.5" y2="185.4" stroke="#a2a6a2" stroke-width="1"/><line x1="6.75" y1="374.4" x2="1221.5" y2="374.4" stroke="#a2a6a2" stroke-width="1"/><line x1="6.75" y1="680.3" x2="1221.5" y2="680.3" stroke="#a2a6a2" stroke-width="1"/><rect x="404.6" y="163.4" width="816.9" height="32.0" fill="rgb(25,50,25)" style="mix-blend-mode:screen"/><line x1="404.6" y1="185.4" x2="1221.5" y2="185.4" stroke="#92bb8e" stroke-width="1"/><line x1="404.6" y1="163.4" x2="1221.5" y2="163.4" stroke="#94a894" stroke-width="1"/><line x1="404.6" y1="195.4" x2="1221.5" y2="195.4" stroke="#94a894" stroke-width="1"/><line x1="404.6" y1="163.4" x2="404.6" y2="195.4" stroke="#254d2a" stroke-width="1"/><clipPath id="boxclip"><rect x="404.6" y="163.9" width="820" height="31"/></clipPath><g clip-path="url(#boxclip)" opacity="0.85"><polyline points="146.7,685.5 148.0,685.3 149.8,685.1 151.9,684.9 154.1,684.6 156.3,684.3 158.2,684.0 159.8,683.7 161.3,683.4 162.8,683.0 164.2,682.6 165.6,682.2 167.0,681.8 168.5,681.4 169.9,680.9 171.4,680.4 172.9,679.9 174.3,679.3 175.6,678.7 176.9,678.0 178.0,677.3 179.2,676.5 180.3,675.7 181.4,674.9 182.5,674.0 183.6,673.1 184.6,672.1 185.7,671.1 186.7,670.0 187.8,668.9 189.0,667.7 190.2,666.4 191.6,665.0 192.9,663.6 194.3,662.0 195.7,660.5 197.0,659.0 198.3,657.5 199.6,655.9 200.8,654.3 202.1,652.7 203.4,651.1 204.8,649.5 206.3,647.9 207.8,646.2 209.4,644.6 211.0,642.9 212.6,641.4 214.3,640.0 216.0,638.8 217.6,637.9 219.3,637.0 221.0,636.0 222.9,634.9 225.0,633.5 227.2,631.7 229.6,629.6 232.0,627.3 234.7,624.9 237.6,622.6 240.8,620.5 244.4,618.6 248.4,616.8 252.7,615.1 257.0,613.3 261.3,611.6 265.4,609.8 269.2,607.9 272.7,606.0 276.2,604.1 279.8,602.1 283.6,600.2 287.8,598.2 292.6,596.2 297.9,594.2 303.4,592.2 308.9,590.1 314.2,588.1 319.0,586.0 323.3,583.9 327.2,581.8 330.8,579.7 334.4,577.5 337.9,575.4 341.6,573.3 345.4,571.2 349.3,569.2 353.2,567.1 357.0,565.1 360.6,563.1 364.0,561.0 367.1,559.0 370.0,557.1 372.7,555.1 375.3,553.1 377.7,550.9 380.0,548.5 382.1,545.7 384.1,542.5 385.9,539.2 387.6,535.9 389.3,532.8 390.8,530.0 392.1,528.0 393.1,526.7 394.0,525.5 395.1,524.1 396.4,521.7 398.2,517.9 400.6,512.4 403.4,505.5 406.5,497.8 409.8,489.6 413.2,481.5 416.4,474.0 419.5,466.8 422.7,459.4 425.9,452.1 429.2,445.1 432.5,438.7 436.0,433.0 439.6,428.4 443.2,424.7 446.9,421.5 450.8,418.6 454.7,415.5 458.8,411.8 463.1,407.6 467.6,403.1 472.3,398.4 477.0,393.7 481.6,389.0 486.0,384.5 490.3,380.0 494.4,375.5 498.5,371.0 502.5,366.7 506.5,362.8 510.3,359.3 514.0,356.4 517.6,354.0 521.1,351.9 524.5,350.0 528.0,348.3 531.5,346.5 535.0,344.7 538.6,343.0 542.1,341.4 545.6,339.9 549.2,338.5 552.7,337.2 556.3,336.0 559.9,334.8 563.5,333.8 567.1,332.8 570.5,332.1 573.9,331.5 577.0,331.1 579.9,331.0 582.7,331.0 585.6,331.1 588.7,331.3 592.0,331.5 595.7,331.8 599.7,332.2 603.9,332.8 608.1,333.3 612.3,333.9 616.4,334.5 620.5,335.1 624.7,335.8 629.0,336.6 633.0,337.3 636.7,338.0 640.0,338.5 642.6,338.9 644.6,339.3 646.3,339.6 647.9,339.8 649.9,340.0 652.4,340.2 655.4,340.4 658.7,340.7 662.3,340.9 666.1,341.0 670.3,341.0 674.8,340.9 679.7,340.6 685.0,340.1 690.6,339.4 696.5,338.8 702.4,338.1 708.4,337.6 714.7,337.2 721.3,336.9 728.1,336.7 734.8,336.4 741.0,335.9 746.5,335.3 751.1,334.4 755.1,333.4 758.7,332.2 762.0,331.0 765.3,329.8 768.9,328.6 772.6,327.6 776.4,326.8 780.1,326.0 783.8,325.0 787.6,323.7 791.3,321.9 795.0,319.5 798.8,316.6 802.5,313.3 806.2,310.0 810.0,306.8 813.7,303.9 817.4,301.4 821.2,299.1 824.9,296.8 828.6,294.7 832.4,292.6 836.1,290.5 839.8,288.4 843.4,286.3 847.0,284.3 850.7,282.3 854.5,280.2 858.5,278.2 862.8,276.2 867.3,274.3 871.9,272.5 876.5,270.5 881.1,268.3 885.4,265.9 889.7,263.0 893.9,259.7 898.1,256.3 902.1,252.8 905.7,249.7 909.0,247.0 911.6,244.9 913.6,243.2 915.3,241.8 917.0,240.5 919.0,239.1 921.6,237.5 924.9,235.7 928.7,233.8 932.8,231.8 937.0,229.8 941.2,227.7 945.3,225.6 949.2,223.5 953.2,221.3 957.1,219.1 961.1,216.9 965.0,214.6 969.0,212.2 973.0,209.7 976.9,207.1 980.9,204.4 984.9,201.8 988.8,199.2 992.8,196.7 996.8,194.3 1000.8,191.9 1004.9,189.6 1008.8,187.4 1012.7,185.4 1016.5,183.7 1020.2,182.3 1023.7,181.2 1027.2,180.2 1030.6,179.5 1033.9,178.8 1037.0,178.2 1039.9,177.7 1042.6,177.3 1045.1,177.1 1047.6,176.9 1050.1,176.7 1052.8,176.6 1055.8,176.5 1059.1,176.5 1062.5,176.5 1065.6,176.5 1068.3,176.6 1070.2,176.6" fill="none" stroke="#8fc09a" stroke-width="1.4"/></g><line x1="146.7" y1="666.0" x2="1221.5" y2="110.11" stroke="#eadcae" stroke-width="1.7"/><text x="1125.0" y="178.0" font-family='"Liberation Sans", sans-serif' font-size="11" fill="#90b696" text-anchor="start" font-weight="normal" textLength="89" lengthAdjust="spacingAndGlyphs">1.618 (62,389.31)</text><text x="1146.6" y="367.3" font-family='"Liberation Sans", sans-serif' font-size="11" fill="#90b696" text-anchor="start" font-weight="normal" textLength="67.4" lengthAdjust="spacingAndGlyphs">1 (19,891.99)</text><text x="1152.3" y="672.9" font-family='"Liberation Sans", sans-serif' font-size="11" fill="#90b696" text-anchor="start" font-weight="normal" textLength="62" lengthAdjust="spacingAndGlyphs">0 (3,128.89)</text></g><line x1="1221.5" y1="0" x2="1221.5" y2="759" stroke="#4a4a4a" stroke-width="1"/><line x1="0" y1="741.25" x2="1280" y2="741.25" stroke="#4a4a4a" stroke-width="1"/><text x="1228.3" y="32.3" font-family='"Liberation Sans", sans-serif' font-size="10.8" fill="#cfcfcf" text-anchor="start" font-weight="normal" textLength="48.8" lengthAdjust="spacingAndGlyphs">160,000.00</text><text x="1228.3" y="66.7" font-family='"Liberation Sans", sans-serif' font-size="10.8" fill="#cfcfcf" text-anchor="start" font-weight="normal" textLength="48.8" lengthAdjust="spacingAndGlyphs">130,000.00</text><text x="1228.3" y="94.3" font-family='"Liberation Sans", sans-serif' font-size="10.8" fill="#cfcfcf" text-anchor="start" font-weight="normal" textLength="48.8" lengthAdjust="spacingAndGlyphs">110,000.00</text><text x="1228.3" y="120.3" font-family='"Liberation Sans", sans-serif' font-size="10.8" fill="#cfcfcf" text-anchor="start" font-weight="normal" textLength="43.4" lengthAdjust="spacingAndGlyphs">94,000.00</text><text x="1228.3" y="151.2" font-family='"Liberation Sans", sans-serif' font-size="10.8" fill="#cfcfcf" text-anchor="start" font-weight="normal" textLength="43.4" lengthAdjust="spacingAndGlyphs">78,000.00</text><text x="1228.3" y="206.0" font-family='"Liberation Sans", sans-serif' font-size="10.8" fill="#cfcfcf" text-anchor="start" font-weight="normal" textLength="43.4" lengthAdjust="spacingAndGlyphs">56,000.00</text><text x="1228.3" y="231.6" font-family='"Liberation Sans", sans-serif' font-size="10.8" fill="#cfcfcf" text-anchor="start" font-weight="normal" textLength="43.4" lengthAdjust="spacingAndGlyphs">48,000.00</text><text x="1228.3" y="261.7" font-family='"Liberation Sans", sans-serif' font-size="10.8" fill="#cfcfcf" text-anchor="start" font-weight="normal" textLength="43.4" lengthAdjust="spacingAndGlyphs">40,000.00</text><text x="1228.3" y="288.6" font-family='"Liberation Sans", sans-serif' font-size="10.8" fill="#cfcfcf" text-anchor="start" font-weight="normal" textLength="43.4" lengthAdjust="spacingAndGlyphs">34,000.00</text><text x="1228.3" y="320.8" font-family='"Liberation Sans", sans-serif' font-size="10.8" fill="#cfcfcf" text-anchor="start" font-weight="normal" textLength="43.4" lengthAdjust="spacingAndGlyphs">28,000.00</text><text x="1228.3" y="346.3" font-family='"Liberation Sans", sans-serif' font-size="10.8" fill="#cfcfcf" text-anchor="start" font-weight="normal" textLength="43.4" lengthAdjust="spacingAndGlyphs">24,000.00</text><text x="1228.3" y="376.4" font-family='"Liberation Sans", sans-serif' font-size="10.8" fill="#cfcfcf" text-anchor="start" font-weight="normal" textLength="43.4" lengthAdjust="spacingAndGlyphs">20,000.00</text><text x="1228.3" y="403.3" font-family='"Liberation Sans", sans-serif' font-size="10.8" fill="#cfcfcf" text-anchor="start" font-weight="normal" textLength="43.4" lengthAdjust="spacingAndGlyphs">17,000.00</text><text x="1228.3" y="429.7" font-family='"Liberation Sans", sans-serif' font-size="10.8" fill="#cfcfcf" text-anchor="start" font-weight="normal" textLength="43.4" lengthAdjust="spacingAndGlyphs">14,500.00</text><text x="1228.3" y="461.0" font-family='"Liberation Sans", sans-serif' font-size="10.8" fill="#cfcfcf" text-anchor="start" font-weight="normal" textLength="43.4" lengthAdjust="spacingAndGlyphs">12,000.00</text><text x="1228.3" y="491.2" font-family='"Liberation Sans", sans-serif' font-size="10.8" fill="#cfcfcf" text-anchor="start" font-weight="normal" textLength="43.4" lengthAdjust="spacingAndGlyphs">10,000.00</text><text x="1228.3" y="520.0" font-family='"Liberation Sans", sans-serif' font-size="10.8" fill="#cfcfcf" text-anchor="start" font-weight="normal" textLength="37.9" lengthAdjust="spacingAndGlyphs">8,400.00</text><text x="1228.3" y="546.7" font-family='"Liberation Sans", sans-serif' font-size="10.8" fill="#cfcfcf" text-anchor="start" font-weight="normal" textLength="37.9" lengthAdjust="spacingAndGlyphs">7,150.00</text><text x="1228.3" y="571.6" font-family='"Liberation Sans", sans-serif' font-size="10.8" fill="#cfcfcf" text-anchor="start" font-weight="normal" textLength="37.9" lengthAdjust="spacingAndGlyphs">6,150.00</text><text x="1228.3" y="601.0" font-family='"Liberation Sans", sans-serif' font-size="10.8" fill="#cfcfcf" text-anchor="start" font-weight="normal" textLength="37.9" lengthAdjust="spacingAndGlyphs">5,150.00</text><text x="1228.3" y="628.9" font-family='"Liberation Sans", sans-serif' font-size="10.8" fill="#cfcfcf" text-anchor="start" font-weight="normal" textLength="37.9" lengthAdjust="spacingAndGlyphs">4,350.00</text><text x="1228.3" y="658.0" font-family='"Liberation Sans", sans-serif' font-size="10.8" fill="#cfcfcf" text-anchor="start" font-weight="normal" textLength="37.9" lengthAdjust="spacingAndGlyphs">3,650.00</text><text x="1228.3" y="685.0" font-family='"Liberation Sans", sans-serif' font-size="10.8" fill="#cfcfcf" text-anchor="start" font-weight="normal" textLength="37.9" lengthAdjust="spacingAndGlyphs">3,100.00</text><text x="1228.3" y="710.3" font-family='"Liberation Sans", sans-serif' font-size="10.8" fill="#cfcfcf" text-anchor="start" font-weight="normal" textLength="37.9" lengthAdjust="spacingAndGlyphs">2,660.00</text><text x="1228.3" y="735.8" font-family='"Liberation Sans", sans-serif' font-size="10.8" fill="#cfcfcf" text-anchor="start" font-weight="normal" textLength="37.9" lengthAdjust="spacingAndGlyphs">2,280.00</text><rect x="1221.5" y="164.6" width="54.5" height="15" fill="#8a8a8a"/><text x="1227.3" y="175.9" font-family='"Liberation Sans", sans-serif' font-size="10.8" fill="#ffffff" text-anchor="start" font-weight="normal" textLength="44.6" lengthAdjust="spacingAndGlyphs">67,700.00</text><rect x="1224" y="-2" width="60" height="16.5" rx="2" fill="#121212" stroke="#2c2c2c" stroke-width="1"/><text x="1229.7" y="9.2" font-family='"Liberation Sans", sans-serif' font-size="8.5" fill="#d8d8d8" text-anchor="start" font-weight="bold" textLength="15.3" lengthAdjust="spacingAndGlyphs">USD</text><text x="18.20" y="754.6" font-family='"Liberation Sans", sans-serif' font-size="10" fill="#d6d6d6" text-anchor="middle" font-weight="bold">2018</text><text x="82.65" y="754.6" font-family='"Liberation Sans", sans-serif' font-size="10" fill="#cfcfcf" text-anchor="middle" font-weight="normal">Jul</text><text x="147.10" y="754.6" font-family='"Liberation Sans", sans-serif' font-size="10" fill="#d6d6d6" text-anchor="middle" font-weight="bold">2019</text><text x="211.56" y="754.6" font-family='"Liberation Sans", sans-serif' font-size="10" fill="#cfcfcf" text-anchor="middle" font-weight="normal">Jul</text><text x="276.01" y="754.6" font-family='"Liberation Sans", sans-serif' font-size="10" fill="#d6d6d6" text-anchor="middle" font-weight="bold">2020</text><text x="340.46" y="754.6" font-family='"Liberation Sans", sans-serif' font-size="10" fill="#cfcfcf" text-anchor="middle" font-weight="normal">Jul</text><text x="404.91" y="754.6" font-family='"Liberation Sans", sans-serif' font-size="10" fill="#d6d6d6" text-anchor="middle" font-weight="bold">2021</text><text x="469.36" y="754.6" font-family='"Liberation Sans", sans-serif' font-size="10" fill="#cfcfcf" text-anchor="middle" font-weight="normal">Jul</text><text x="533.82" y="754.6" font-family='"Liberation Sans", sans-serif' font-size="10" fill="#d6d6d6" text-anchor="middle" font-weight="bold">2022</text><text x="598.27" y="754.6" font-family='"Liberation Sans", sans-serif' font-size="10" fill="#cfcfcf" text-anchor="middle" font-weight="normal">Jul</text><text x="662.72" y="754.6" font-family='"Liberation Sans", sans-serif' font-size="10" fill="#d6d6d6" text-anchor="middle" font-weight="bold">2023</text><text x="727.17" y="754.6" font-family='"Liberation Sans", sans-serif' font-size="10" fill="#cfcfcf" text-anchor="middle" font-weight="normal">Jul</text><text x="791.62" y="754.6" font-family='"Liberation Sans", sans-serif' font-size="10" fill="#d6d6d6" text-anchor="middle" font-weight="bold">2024</text><text x="856.08" y="754.6" font-family='"Liberation Sans", sans-serif' font-size="10" fill="#cfcfcf" text-anchor="middle" font-weight="normal">Jul</text><text x="920.53" y="754.6" font-family='"Liberation Sans", sans-serif' font-size="10" fill="#d6d6d6" text-anchor="middle" font-weight="bold">2025</text><text x="984.98" y="754.6" font-family='"Liberation Sans", sans-serif' font-size="10" fill="#cfcfcf" text-anchor="middle" font-weight="normal">Jul</text><text x="1049.43" y="754.6" font-family='"Liberation Sans", sans-serif' font-size="10" fill="#d6d6d6" text-anchor="middle" font-weight="bold">2026</text><text x="1113.88" y="754.6" font-family='"Liberation Sans", sans-serif' font-size="10" fill="#cfcfcf" text-anchor="middle" font-weight="normal">Jul</text><text x="1178.34" y="754.6" font-family='"Liberation Sans", sans-serif' font-size="10" fill="#d6d6d6" text-anchor="middle" font-weight="bold">2027</text><text x="-1.5" y="7.2" font-family='"Liberation Sans", sans-serif' font-size="8.2" fill="#aaadb4" text-anchor="start" font-weight="normal" textLength="176.5" lengthAdjust="spacingAndGlyphs">BTCUSD · Bitcoin / U.S. Dollar · 1M · Coinbase</text><text x="180" y="7.2" font-family='"Liberation Sans", sans-serif' font-size="8.2" fill="#7fb48e" text-anchor="start" font-weight="normal">O66,971.54</text><text x="228.7" y="7.2" font-family='"Liberation Sans", sans-serif' font-size="8.2" fill="#7fb48e" text-anchor="start" font-weight="normal">H68,200.00</text><text x="277" y="7.2" font-family='"Liberation Sans", sans-serif' font-size="8.2" fill="#7fb48e" text-anchor="start" font-weight="normal">L66,051.86</text><text x="323.7" y="7.2" font-family='"Liberation Sans", sans-serif' font-size="8.2" fill="#7fb48e" text-anchor="start" font-weight="normal">C67,700.00</text><text x="372" y="7.2" font-family='"Liberation Sans", sans-serif' font-size="8.2" fill="#7fb48e" text-anchor="start" font-weight="normal">+732.15 (+1.09%)</text><text x="-2.5" y="19.2" font-family='"Liberation Sans", sans-serif' font-size="8.2" fill="#aaadb4" text-anchor="start" font-weight="normal" textLength="64.4" lengthAdjust="spacingAndGlyphs">MA (50, close, 0)</text><text x="67.5" y="19.2" font-family='"Liberation Sans", sans-serif' font-size="8.2" fill="#ffffff" text-anchor="start" font-weight="bold" textLength="37" lengthAdjust="spacingAndGlyphs">57,606.53</text><text x="-2.0" y="31.0" font-family='"Liberation Sans", sans-serif' font-size="8.2" fill="#aaadb4" text-anchor="start" font-weight="normal" textLength="67.6" lengthAdjust="spacingAndGlyphs">EMA (50, close, 0)</text><rect x="69.8" y="23.4" width="41.2" height="8.6" fill="#0c1028"/><text x="71.8" y="31.0" font-family='"Liberation Sans", sans-serif' font-size="8.2" fill="#6a7cc8" text-anchor="start" font-weight="normal" textLength="37.4" lengthAdjust="spacingAndGlyphs">65,482.79</text></svg>
</body></html>
